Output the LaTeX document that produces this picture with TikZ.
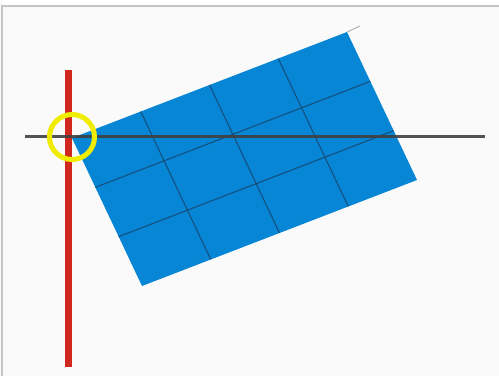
\documentclass[tikz,border=0pt]{standalone}
\usepackage{tikz}
\usetikzlibrary{calc}
\definecolor{panelblue}{RGB}{8,134,214}
\definecolor{gridblue}{RGB}{20,72,112}
\definecolor{axisred}{RGB}{208,40,28}
\definecolor{markyellow}{RGB}{240,236,0}
\definecolor{framegray}{RGB}{196,196,196}

\begin{document}
\begin{tikzpicture}[
    x=1pt, y=-1pt,
    panel/.style={fill=panelblue, draw=none},
    gridline/.style={draw=gridblue, line width=1.1pt, opacity=0.85},
    vertaxis/.style={draw=axisred, line width=7pt},
    horizaxis/.style={draw=black!75, line width=3pt, opacity=0.9},
    pivotmark/.style={draw=markyellow, line width=5pt},
    framestroke/.style={draw=framegray, line width=2.5pt}
  ]

  % ============ Canvas and frame ============
  \useasboundingbox (0,0) rectangle (499,376);
  \fill[white!98!black] (0,0) rectangle (499,376);
  \fill[white] (3,0) rectangle (499,6);
  \draw[framestroke] (2,376) -- (2,6) -- (499,6);

  % ============ Panel corners ============
  \coordinate (tl) at (72,138);
  \coordinate (tr) at (347,32);
  \coordinate (br) at (417,180);
  \coordinate (bl) at (142,286);
  \coordinate (tip) at (360,26);

  % ============ Blue panel with 4x3 grid ============
  \fill[panel] (tl) -- (tr) -- (br) -- (bl) -- cycle;
  \draw[gray!60, line width=1pt] (tr) -- (tip);
  \foreach \t in {0.25,0.5,0.75}
    \draw[gridline] ($(tl)!\t!(tr)$) -- ($(bl)!\t!(br)$);
  \foreach \t in {0.3333,0.6667}
    \draw[gridline] ($(tl)!\t!(bl)$) -- ($(tr)!\t!(br)$);

  % ============ Axes ============
  \coordinate (redtop) at (68,70);
  \coordinate (redbot) at (68,367);
  \coordinate (blkleft) at (25,136);
  \coordinate (blkright) at (485,136);
  \draw[vertaxis] (redtop) -- (redbot);
  \draw[horizaxis] (blkleft) -- (blkright);

  % ============ Pivot marker ============
  \node[pivotmark, circle, minimum size=45pt, inner sep=0pt] (pivot) at (72,137) {};

\end{tikzpicture}
\end{document}
